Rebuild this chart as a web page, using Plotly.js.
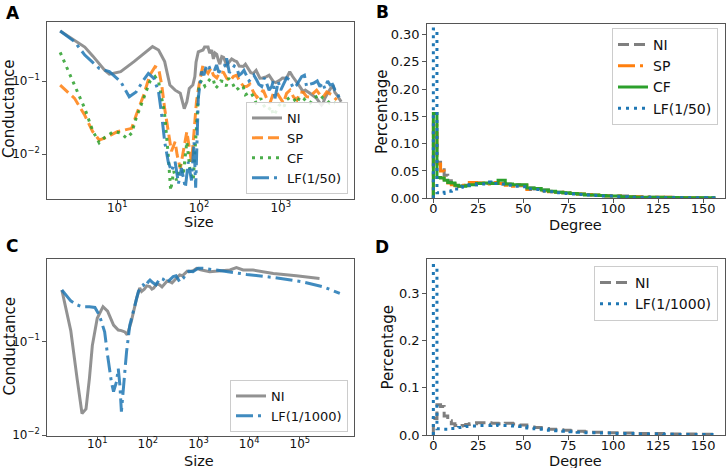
<!DOCTYPE html>
<html><head><meta charset="utf-8">
<script src="https://cdn.plot.ly/plotly-3.0.1.min.js"></script>
<style>html,body{margin:0;padding:0;background:#fff}#g{width:728px;height:468px}</style>
</head><body><div id="g"></div>
<script>
// ---------- Panel A: conductance vs size ----------
const aNiSize = [2,4,5,7,8,11,16,23,27,32,38,44,51,59,66,71,76,84,89,92,98,112,117,129,135,143,150,157,165,173,180,190,200,218,230,251,270,290,310,348,370,401,430,462,500,557,600,673,720,812,870,980,1050,1180,1290,1400,1570,1700,1890,2000,2280,2500,2750,2950,3160,3300,3470,3800,4100,4410,4600,4850,5200,5500];
const aNiCond = [0.481,0.29,0.22,0.14,0.124,0.134,0.184,0.251,0.294,0.265,0.184,0.088,0.075,0.068,0.042,0.052,0.079,0.088,0.115,0.18,0.25,0.265,0.29,0.29,0.24,0.265,0.20,0.24,0.23,0.19,0.17,0.215,0.21,0.165,0.18,0.20,0.19,0.184,0.16,0.158,0.17,0.149,0.13,0.127,0.14,0.109,0.11,0.115,0.12,0.098,0.095,0.103,0.11,0.109,0.134,0.115,0.098,0.085,0.071,0.075,0.068,0.063,0.058,0.052,0.047,0.05,0.058,0.07,0.08,0.084,0.07,0.065,0.058,0.052];

const aSpSize = [2,3,4,5,6,7,10,13,15,17,21,25,29,32,35,38,42,46,51,54,59,63,67,71,76,81,87,93,102,112,120,129,140,150,165,181,200,218,240,263,290,316,350,383,420,462,510,557,610,673,740,812,890,980,1080,1180,1300,1430,1580,1720,1900,2070,2300,2500,2750,3020,3300,3650,4200,4850];
const aSpCond = [0.088,0.058,0.034,0.0204,0.0157,0.0166,0.0204,0.022,0.0226,0.034,0.064,0.12,0.157,0.149,0.088,0.042,0.020,0.011,0.0148,0.0098,0.0064,0.0098,0.015,0.0204,0.0123,0.0079,0.0204,0.052,0.1,0.165,0.14,0.127,0.15,0.12,0.11,0.134,0.13,0.109,0.10,0.115,0.12,0.098,0.085,0.084,0.09,0.071,0.06,0.065,0.075,0.058,0.05,0.068,0.07,0.058,0.05,0.068,0.075,0.061,0.055,0.071,0.07,0.061,0.06,0.068,0.075,0.065,0.06,0.071,0.065,0.055];

const aCfSize = [2,3,4,5,6,7,9,11,13,15,17,21,25,29,32,35,38,42,45,49,53,59,64,71,78,85,91,96,100,108,118,129,140,150,160,173,185,200,215,229,245,263,280,302,320,347,370,398,430,462,500,533,570,617,660,708,760,813,850,891,950,1020,1100,1175,1300,1430,1580,1720,1900,2075,2300,2510,2750,3020,3300,3655,3950,4210,4620];
const aCfCond = [0.246,0.088,0.042,0.021,0.0144,0.017,0.0204,0.0195,0.0166,0.0195,0.031,0.058,0.098,0.115,0.098,0.058,0.035,0.0098,0.0032,0.0059,0.0044,0.0072,0.0052,0.0148,0.0059,0.0044,0.0148,0.043,0.088,0.103,0.085,0.098,0.11,0.103,0.08,0.088,0.1,0.098,0.085,0.109,0.1,0.088,0.075,0.079,0.085,0.084,0.065,0.068,0.07,0.061,0.05,0.052,0.058,0.047,0.042,0.040,0.045,0.034,0.036,0.040,0.046,0.050,0.045,0.055,0.06,0.058,0.05,0.061,0.058,0.052,0.05,0.058,0.062,0.065,0.058,0.055,0.05,0.052,0.05];

const aLfSize = [2,3,4,6,8,11,14,17,21,24,28,32,35,38,42,46,51,56,61,68,74,81,87,91,98,107,115,123,130,143,155,164,175,190,205,218,235,251,270,290,310,331,355,383,410,442,470,508,540,585,630,673,720,776,810,851,933,1000,1072,1180,1300,1420,1567,1680,1807,1950,2075,2250,2512,2800,3020,3250,3467,3750,4018,4300,4624,4900,5333];
const aLfCond = [0.481,0.344,0.226,0.149,0.134,0.098,0.061,0.071,0.103,0.127,0.109,0.071,0.034,0.0148,0.0079,0.0059,0.0079,0.004,0.0065,0.0035,0.0079,0.0044,0.0148,0.0035,0.058,0.134,0.12,0.165,0.15,0.157,0.14,0.165,0.13,0.149,0.16,0.204,0.13,0.141,0.16,0.149,0.12,0.127,0.14,0.115,0.1,0.109,0.12,0.103,0.09,0.084,0.11,0.093,0.075,0.084,0.1,0.058,0.098,0.075,0.088,0.11,0.103,0.08,0.088,0.1,0.115,0.12,0.084,0.09,0.093,0.1,0.084,0.095,0.079,0.1,0.088,0.09,0.075,0.07,0.055];

// ---------- Panel C ----------
const cNiSize = [2,3,4,5,6,7,8,10,13,16,21,26,30,35,39,47,60,69,75,85,95,109,120,130,150,170,190,210,240,270,300,340,380,425,480,550,600,673,800,912,1100,1660,2600,4170,5600,7600,11900,30000,85000,245000];
const cNiCond = [0.353,0.13,0.04,0.017,0.019,0.04,0.09,0.176,0.234,0.21,0.149,0.132,0.13,0.126,0.117,0.162,0.288,0.37,0.34,0.36,0.39,0.383,0.36,0.37,0.41,0.40,0.38,0.41,0.44,0.432,0.42,0.45,0.48,0.51,0.50,0.53,0.56,0.553,0.57,0.60,0.58,0.553,0.56,0.576,0.61,0.576,0.576,0.53,0.50,0.469];

const cLfSize = [2,3,4,5,7,9,11,14,16,19,21,24,26,28,30,34,38,44,55,65,81,90,101,110,126,145,173,200,235,270,316,360,425,500,575,650,776,980,1230,2240,3550,8900,29500,115000,282000,617000];
const cLfCond = [0.353,0.27,0.245,0.234,0.234,0.23,0.19,0.126,0.071,0.037,0.029,0.037,0.051,0.034,0.0178,0.037,0.078,0.149,0.244,0.34,0.40,0.38,0.43,0.45,0.42,0.40,0.47,0.46,0.42,0.45,0.49,0.50,0.43,0.47,0.53,0.56,0.553,0.60,0.60,0.576,0.553,0.517,0.48,0.43,0.383,0.325];

// ---------- Panels B & D: degree histograms (bin edges + heights) ----------
const degEdges = [0,2,4,6,8,10,12,14,16,18,20,24,28,32,36,40,44,48,52,56,60,64,68,72,76,80,84,88,92,96,100,104,108,112,116,120,124,128,132,136,140,144,148,152,156];
const bNi = [0.12,0.066,0.056,0.042,0.032,0.027,0.024,0.022,0.023,0.024,0.026,0.028,0.027,0.028,0.026,0.026,0.025,0.023,0.019,0.017,0.015,0.013,0.011,0.010,0.009,0.008,0.007,0.006,0.005,0.005,0.004,0.004,0.003,0.003,0.003,0.002,0.002,0.002,0.002,0.0015,0.0015,0.001,0.001,0.001];
const bSp = [0.14,0.063,0.05,0.035,0.028,0.025,0.023,0.021,0.024,0.027,0.029,0.028,0.026,0.029,0.027,0.024,0.022,0.024,0.016,0.018,0.014,0.012,0.011,0.010,0.009,0.008,0.007,0.006,0.005,0.004,0.004,0.003,0.003,0.003,0.002,0.002,0.002,0.002,0.0015,0.0015,0.001,0.001,0.001,0.0008];
const bCf = [0.155,0.038,0.037,0.033,0.029,0.028,0.024,0.022,0.022,0.023,0.025,0.027,0.028,0.027,0.033,0.026,0.025,0.025,0.019,0.018,0.015,0.013,0.011,0.010,0.009,0.008,0.006,0.006,0.005,0.004,0.004,0.003,0.003,0.002,0.002,0.002,0.002,0.0015,0.0015,0.001,0.001,0.001,0.001,0.0008];
const bLf = [0.31,0.010,0.009,0.011,0.013,0.014,0.017,0.02,0.021,0.024,0.025,0.026,0.030,0.027,0.026,0.024,0.022,0.021,0.017,0.016,0.013,0.012,0.010,0.009,0.008,0.007,0.006,0.005,0.004,0.004,0.003,0.003,0.002,0.002,0.002,0.0015,0.0015,0.001,0.001,0.001,0.001,0.0008,0.0008,0.0005];
const dNi = [0.035,0.064,0.06,0.04,0.03,0.024,0.02,0.019,0.02,0.022,0.024,0.026,0.026,0.025,0.024,0.025,0.023,0.021,0.017,0.016,0.014,0.012,0.011,0.010,0.009,0.008,0.007,0.006,0.006,0.005,0.005,0.004,0.004,0.003,0.003,0.003,0.003,0.002,0.002,0.002,0.002,0.002,0.0015,0.0015];
const dLf = [0.358,0.013,0.012,0.012,0.013,0.014,0.015,0.016,0.017,0.018,0.019,0.020,0.020,0.021,0.020,0.020,0.019,0.018,0.015,0.013,0.012,0.010,0.009,0.008,0.007,0.006,0.005,0.005,0.004,0.004,0.003,0.003,0.003,0.002,0.002,0.002,0.002,0.0015,0.0015,0.001,0.001,0.001,0.001,0.001];

const namesA = ['NI','SP','CF','LF(1/50)'];
const namesC = ['NI','LF(1/1000)'];
const panelLetters = ['A','B','C','D'];
const xTitles = ['Size','Degree','Size','Degree'];
const yTitles = ['Conductance','Percentage','Conductance','Percentage'];

const GRAY='#7f7f7f', ORANGE='#ff7f0e', GREEN='#2ca02c', BLUE='#1f77b4';
const DASH='11px,5px', DOT='3px,5px', DASHDOT='17px,5px,3px,5px';
const FONT='DejaVu Sans, sans-serif';

function stepXY(edges, vals){
  const xs=[edges[0]], ys=[0];
  for(let i=0;i<vals.length;i++){ xs.push(edges[i]); ys.push(vals[i]); }
  const last=edges[edges.length-1];
  xs.push(last); ys.push(vals[vals.length-1]);
  xs.push(last); ys.push(0);
  return {xs, ys};
}
function lineTrace(x,y,name,color,dash,xa,ya,leg){
  return {type:'scatter',mode:'lines',x:x,y:y,name:name,xaxis:xa,yaxis:ya,legend:leg,legendgroup:leg+name,
    opacity:0.85,line:{color:color,width:3,dash:dash}};
}
function histTrace(vals,name,color,dash,xa,ya,leg){
  const s=stepXY(degEdges,vals);
  return {type:'scatter',mode:'lines',x:s.xs,y:s.ys,name:name,xaxis:xa,yaxis:ya,legend:leg,legendgroup:leg+name,
    line:{color:color,width:3,dash:dash,shape:'hv'}};
}

const traces = [
  lineTrace(aNiSize,aNiCond,namesA[0],GRAY,'solid','x','y','legend'),
  lineTrace(aSpSize,aSpCond,namesA[1],ORANGE,DASH,'x','y','legend'),
  lineTrace(aCfSize,aCfCond,namesA[2],GREEN,DOT,'x','y','legend'),
  lineTrace(aLfSize,aLfCond,namesA[3],BLUE,DASHDOT,'x','y','legend'),
  histTrace(bNi,namesA[0],GRAY,DASH,'x2','y2','legend2'),
  histTrace(bSp,namesA[1],ORANGE,DASHDOT,'x2','y2','legend2'),
  histTrace(bCf,namesA[2],GREEN,'solid','x2','y2','legend2'),
  histTrace(bLf,namesA[3],BLUE,DOT,'x2','y2','legend2'),
  lineTrace(cNiSize,cNiCond,namesC[0],GRAY,'solid','x3','y3','legend3'),
  lineTrace(cLfSize,cLfCond,namesC[1],BLUE,DASHDOT,'x3','y3','legend3'),
  histTrace(dNi,namesC[0],GRAY,DASH,'x4','y4','legend4'),
  histTrace(dLf,namesC[1],BLUE,DOT,'x4','y4','legend4')
];

function ax(extra){
  return Object.assign({showline:true,mirror:true,linecolor:'#555',linewidth:1,ticks:'outside',ticklen:3.5,
    tickcolor:'#555',showgrid:false,zeroline:false,automargin:false,
    tickfont:{size:13,color:'#111',family:FONT}},extra);
}
const W=728,H=468;
const px=(a,b)=>[a/W,b/W], py=(top,bot)=>[1-bot/H,1-top/H];
function legendBox(x,y,xa,ya,size){
  return {x:x,y:y,xanchor:xa,yanchor:ya,xref:'paper',yref:'paper',bgcolor:'rgba(255,255,255,0.85)',
    bordercolor:'#cccccc',borderwidth:1,font:{size:size,family:FONT,color:'#111'},tracegroupgap:0,itemwidth:30};
}
function txt(t,x,y,size,opts){
  return Object.assign({text:t,x:x/W,y:1-y/H,xref:'paper',yref:'paper',showarrow:false,xanchor:'center',yanchor:'middle',
    font:{size:size,family:FONT,color:'#111'}},opts||{});
}
const LOGTICK={size:12,color:'#111',family:FONT};
const layout = {
  width:W,height:H,margin:{l:0,r:0,t:0,b:0},paper_bgcolor:'#fff',plot_bgcolor:'#fff',
  font:{family:FONT,color:'#111'},
  xaxis: ax({domain:px(46.7,354),anchor:'y',type:'log',range:[0.136,3.897],tickvals:[10,100,1000],tickfont:LOGTICK,
    ticklabelstandoff:-6,ticktext:['10<sup>1</sup>','10<sup>2</sup>','10<sup>3</sup>']}),
  yaxis: ax({domain:py(22,199),anchor:'x',type:'log',range:[-2.61,-0.195],tickvals:[0.01,0.1],tickfont:LOGTICK,
    ticktext:['10<sup>−2</sup>','10<sup>−1</sup>']}),
  xaxis2: ax({domain:px(426.7,725),anchor:'y2',range:[-3.7,162.2],tickvals:[0,25,50,75,100,125,150],ticklabelstandoff:-5}),
  yaxis2: ax({domain:py(24,198.3),anchor:'x2',range:[0,0.319],tickvals:[0,0.05,0.1,0.15,0.2,0.25,0.3],tickformat:'.2f'}),
  xaxis3: ax({domain:px(46.7,354),anchor:'y3',type:'log',range:[0.002,6.07],tickvals:[10,100,1000,10000,100000],tickfont:LOGTICK,
    ticklabelstandoff:-6,ticktext:['10<sup>1</sup>','10<sup>2</sup>','10<sup>3</sup>','10<sup>4</sup>','10<sup>5</sup>']}),
  yaxis3: ax({domain:py(259,435.5),anchor:'x3',type:'log',range:[-2.005,-0.122],tickvals:[0.01,0.1],tickfont:LOGTICK,
    ticktext:['10<sup>−2</sup>','10<sup>−1</sup>']}),
  xaxis4: ax({domain:px(426.7,725),anchor:'y4',range:[-3.7,162.2],tickvals:[0,25,50,75,100,125,150],ticklabelstandoff:-5}),
  yaxis4: ax({domain:py(259,435),anchor:'x4',range:[0,0.372],tickvals:[0,0.1,0.2,0.3],tickformat:'.1f'}),
  legend: legendBox(348/W,1-194/H,'right','bottom',13),
  legend2: legendBox(718/W,1-28/H,'right','top',14),
  legend3: legendBox(348/W,1-432/H,'right','bottom',13),
  legend4: legendBox(718/W,1-266/H,'right','top',14),
  showlegend:true,
  annotations:[
    txt('<b>'+panelLetters[0]+'</b>',13,12.5,17,{font:{size:17,family:FONT,color:'#000'}}),
    txt('<b>'+panelLetters[1]+'</b>',382,11.5,17,{font:{size:17,family:FONT,color:'#000'}}),
    txt('<b>'+panelLetters[2]+'</b>',12,246,17,{font:{size:17,family:FONT,color:'#000'}}),
    txt('<b>'+panelLetters[3]+'</b>',382,246.5,17,{font:{size:17,family:FONT,color:'#000'}}),
    txt(xTitles[0],199,222,14.5),
    txt(xTitles[1],575.5,224.5,14.5),
    txt(xTitles[2],199,461,14.5),
    txt(xTitles[3],575.5,461,14.5),
    txt(yTitles[0],9,109,15,{textangle:-90}),
    txt(yTitles[1],381.5,112.5,15,{textangle:-90}),
    txt(yTitles[2],9,346.5,15,{textangle:-90}),
    txt(yTitles[3],387,347.5,15,{textangle:-90})
  ]
};
Plotly.newPlot('g',traces,layout,{staticPlot:true,displayModeBar:false});
</script></body></html>
